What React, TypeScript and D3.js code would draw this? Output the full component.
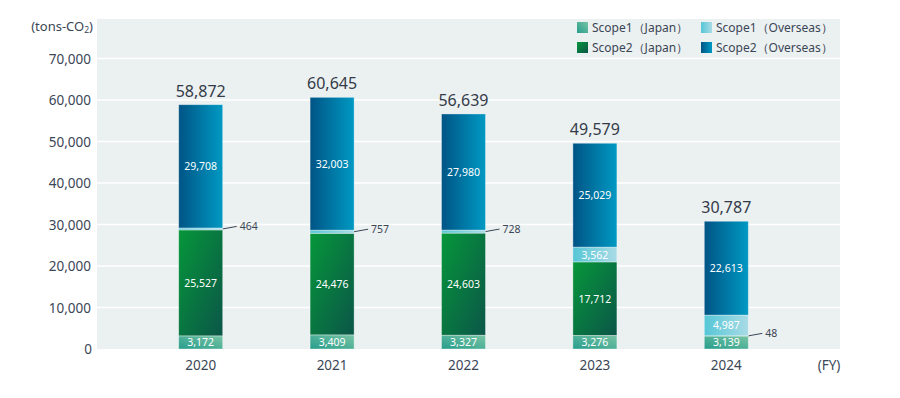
import React, { useEffect, useRef } from 'react';
import * as d3 from 'd3';

const years = ['2020', '2021', '2022', '2023', '2024'];
const scope1Japan = [3172, 3409, 3327, 3276, 3139];
const scope2Japan = [25527, 24476, 24603, 17712, 48];
const scope1Overseas = [464, 757, 728, 3562, 4987];
const scope2Overseas = [29708, 32003, 27980, 25029, 22613];
const totals = [58872, 60645, 56639, 49579, 30787];
const yTicks = [0, 10000, 20000, 30000, 40000, 50000, 60000, 70000];

// segments below this height get a leader-line label outside the bar
const smallLimit = 1000;

const seriesDefs = [
  { key: 's1j', name: 'Scope1（Japan）', values: scope1Japan, grad: 'g-s1j' },
  { key: 's2j', name: 'Scope2（Japan）', values: scope2Japan, grad: 'g-s2j' },
  { key: 's1o', name: 'Scope1（Overseas）', values: scope1Overseas, grad: 'g-s1o' },
  { key: 's2o', name: 'Scope2（Overseas）', values: scope2Overseas, grad: 'g-s2o' },
];

const App: React.FC = () => {
  const svgRef = useRef<SVGSVGElement>(null);

  useEffect(() => {
    if (!svgRef.current) return;
    const svg = d3.select(svgRef.current);
    svg.selectAll('*').remove();

    const font = "'Noto Sans', 'Open Sans', sans-serif";
    const textColor = '#3b4656';
    const plot = { left: 97, right: 840, top: 19, bottom: 349 };

    const defs = svg.append('defs');
    const addGrad = (id: string, c1: string, c2: string, dir: number[] = [0, 0, 1, 0]) => {
      const g = defs.append('linearGradient').attr('id', id)
        .attr('x1', dir[0]).attr('y1', dir[1]).attr('x2', dir[2]).attr('y2', dir[3]);
      g.append('stop').attr('offset', '0%').attr('stop-color', c1);
      g.append('stop').attr('offset', '100%').attr('stop-color', c2);
    };
    addGrad('g-s1j', '#279d8c', '#78c4a4', [0, 1, 1, 0]);
    addGrad('g-s2j', '#06963a', '#0b5648', [0, 0, 1, 1]);
    addGrad('g-s1o', '#55c6d6', '#a9dbe6');
    addGrad('g-s2o', '#005485', '#0099c3');

    const x = d3.scaleBand<string>()
      .domain(years)
      .range([135, 792])
      .paddingInner(0.665)
      .paddingOuter(0.3325);

    const y = d3.scaleLinear().domain([0, 70000]).range([plot.bottom, 58.5]);

    // background
    svg.append('rect')
      .attr('x', plot.left).attr('y', plot.top)
      .attr('width', plot.right - plot.left).attr('height', plot.bottom - plot.top)
      .attr('fill', '#ebf0f0');

    // grid
    svg.append('g').selectAll('line')
      .data(yTicks.filter(t => t > 0))
      .join('line')
      .attr('x1', plot.left).attr('x2', plot.right)
      .attr('y1', d => y(d)).attr('y2', d => y(d))
      .attr('stroke', '#ffffff').attr('stroke-width', 1.5);

    // y tick labels
    svg.append('g').selectAll('text')
      .data(yTicks)
      .join('text')
      .attr('x', d => (d === 0 ? 92 : 91))
      .attr('y', d => y(d) + 5)
      .attr('text-anchor', 'end')
      .attr('font-family', font).attr('font-size', 13.5)
      .attr('fill', textColor)
      .text(d => d3.format(',')(d));

    const unit = svg.append('text')
      .attr('x', 93).attr('y', 31)
      .attr('text-anchor', 'end')
      .attr('font-family', font).attr('font-size', 13)
      .attr('fill', textColor);
    unit.append('tspan').text('(tons-CO');
    unit.append('tspan').attr('font-size', 8.5).attr('dy', 2).text('2');
    unit.append('tspan').attr('dy', -2).text(')');

    // stacked bars
    const stackData = years.map((yr, i) => {
      const row: Record<string, number | string> = { year: yr };
      seriesDefs.forEach(s => { row[s.key] = s.values[i]; });
      return row;
    });
    const stack = d3.stack<Record<string, number | string>>()
      .keys(seriesDefs.map(s => s.key))
      .value((d, k) => d[k] as number);
    const layers = stack(stackData);
    const bw = x.bandwidth();

    layers.forEach((layer, li) => {
      const def = seriesDefs[li];
      const g = svg.append('g');
      g.selectAll('rect')
        .data(layer)
        .join('rect')
        .attr('x', d => x(d.data.year as string)!)
        .attr('y', d => y(d[1]))
        .attr('width', bw)
        .attr('height', d => y(d[0]) - y(d[1]))
        .attr('fill', `url(#${def.grad})`)
        .attr('stroke', 'rgba(255,255,255,0.45)')
        .attr('stroke-width', 0.8);

      layer.forEach(d => {
        const v = d[1] - d[0];
        const cx = x(d.data.year as string)! + bw / 2;
        const my = (y(d[0]) + y(d[1])) / 2;
        if (v >= smallLimit) {
          g.append('text')
            .attr('x', cx).attr('y', my + 4)
            .attr('text-anchor', 'middle')
            .attr('font-family', font).attr('font-size', 10.5)
            .attr('fill', '#ffffff')
            .text(d3.format(',')(v));
        } else {
          const x0 = x(d.data.year as string)! + bw;
          g.append('line')
            .attr('x1', x0).attr('y1', my)
            .attr('x2', x0 + 14).attr('y2', my - 2.5)
            .attr('stroke', '#3b4656').attr('stroke-width', 1);
          g.append('text')
            .attr('x', x0 + 17).attr('y', my + 1)
            .attr('font-family', font).attr('font-size', 10.5)
            .attr('fill', textColor)
            .text(d3.format(',')(v));
        }
      });
    });

    // totals
    svg.append('g').selectAll('text')
      .data(totals)
      .join('text')
      .attr('x', (_, i) => x(years[i])! + bw / 2)
      .attr('y', d => y(d) - 8)
      .attr('text-anchor', 'middle')
      .attr('font-family', font).attr('font-size', 16)
      .attr('fill', '#333b48')
      .text(d => d3.format(',')(d));

    // year labels
    svg.append('g').selectAll('text')
      .data(years)
      .join('text')
      .attr('x', d => x(d)! + bw / 2)
      .attr('y', 370)
      .attr('text-anchor', 'middle')
      .attr('font-family', font).attr('font-size', 13.5)
      .attr('fill', textColor)
      .text(d => d);

    svg.append('text')
      .attr('x', 829).attr('y', 370)
      .attr('text-anchor', 'middle')
      .attr('font-family', font).attr('font-size', 13.5)
      .attr('fill', textColor)
      .text('(FY)');

    // legend
    const legendPos = [
      { k: 0, x: 577, y: 22 },
      { k: 2, x: 701, y: 22 },
      { k: 1, x: 577, y: 42 },
      { k: 3, x: 701, y: 42 },
    ];
    const lg = svg.append('g');
    legendPos.forEach(p => {
      const s = seriesDefs[p.k];
      lg.append('rect')
        .attr('x', p.x).attr('y', p.y)
        .attr('width', 11).attr('height', 11)
        .attr('fill', `url(#${s.grad})`);
      lg.append('text')
        .attr('x', p.x + 15).attr('y', p.y + 10)
        .attr('font-family', font).attr('font-size', 12)
        .attr('fill', textColor)
        .text(s.name);
    });
  }, []);

  return (
    <div style={{ width: 900, height: 398, margin: -8 }}>
      <svg ref={svgRef} width={900} height={398} style={{ display: 'block' }} />
    </div>
  );
};

export default App;
